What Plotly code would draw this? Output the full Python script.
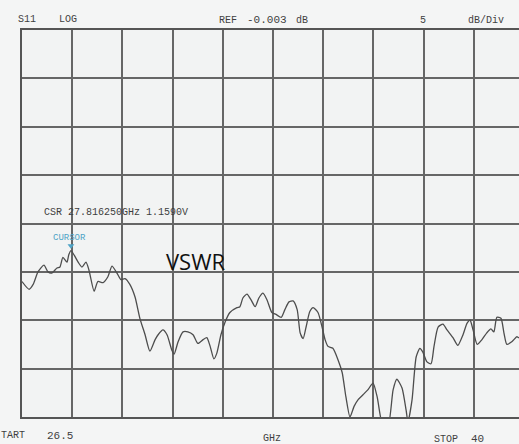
import plotly.graph_objects as go

# Frequency (GHz) and S11 magnitude (dB)
freq_ghz = [26.50, 26.69, 26.80, 26.93, 27.09, 27.20, 27.31, 27.44, 27.52, 27.60,
            27.71, 27.76, 27.82, 28.01, 28.11, 28.22, 28.30, 28.44, 28.54, 28.68,
            28.81, 28.92, 29.05, 29.16, 29.27, 29.40, 29.54, 29.67, 29.81, 29.94,
            30.08, 30.16, 30.29, 30.40, 30.53, 30.59, 30.70, 30.83, 30.96, 31.10,
            31.23, 31.37, 31.47, 31.56, 31.66, 31.74, 31.85, 31.96, 32.09, 32.28,
            32.36, 32.44, 32.55, 32.66, 32.77, 32.87, 32.98, 33.09, 33.22, 33.33,
            33.47, 33.57, 33.68, 33.79, 33.90, 33.98, 34.06, 34.14, 34.24, 34.33,
            34.46, 34.57, 34.65, 34.73, 34.86, 35.00, 35.11, 35.21, 35.32, 35.43,
            35.54, 35.67, 35.80, 35.94, 36.05, 36.21, 36.34, 36.48, 36.58, 36.72,
            36.83, 36.88, 36.99, 37.10, 37.20, 37.28, 37.39, 37.50, 37.58, 37.69,
            37.82, 37.93, 38.09, 38.22, 38.36, 38.47, 38.55, 38.63, 38.74, 38.87,
            39.00, 39.11, 39.19, 39.27, 39.38, 39.46, 39.54, 39.68, 39.81, 39.86,
            40.00]
s11_db = [-26.0, -26.8, -26.3, -25.0, -24.3, -25.0, -25.1, -24.6, -24.5, -23.5,
          -24.0, -23.2, -22.8, -24.0, -24.5, -24.0, -24.8, -27.0, -26.0, -26.1,
          -25.5, -24.4, -25.1, -25.8, -25.7, -26.3, -27.6, -29.8, -31.5, -33.2,
          -32.0, -31.5, -31.0, -31.5, -33.1, -33.5, -32.2, -31.2, -31.2, -31.5,
          -32.4, -32.0, -31.8, -32.7, -34.0, -33.4, -31.5, -30.2, -29.2, -28.7,
          -28.6, -27.7, -27.3, -27.9, -28.6, -27.7, -27.2, -27.9, -29.2, -29.4,
          -29.7, -28.9, -28.1, -28.0, -28.9, -31.3, -31.9, -30.7, -29.1, -28.7,
          -29.2, -30.7, -32.0, -32.7, -32.9, -34.1, -35.4, -37.9, -40.0, -38.9,
          -38.2, -37.7, -37.2, -36.5, -37.9, -41.0, -41.0, -37.2, -36.1, -37.0,
          -39.3, -40.5, -38.2, -33.8, -32.9, -33.3, -34.3, -34.5, -32.7, -30.7,
          -30.4, -31.0, -31.8, -32.6, -31.5, -30.3, -30.0, -31.0, -32.5, -32.0,
          -31.3, -30.9, -31.2, -29.7, -29.8, -31.3, -32.5, -32.2, -31.7, -31.8,
          -31.5]

cursor_freq = [27.816]
cursor_db = [-22.3]

start_ghz = 26.5
stop_ghz = 40.0
ref_db = 0.0
db_per_div = 5
n_xdiv = 10
n_ydiv = 8

W, H = 519, 444
L, T, B = 22, 30, 27
plot_w = W - L
plot_h = H - T - B
xdiv = (stop_ghz - start_ghz) / n_xdiv
full_w = 502.0
x_end = start_ghz + (stop_ghz - start_ghz) * plot_w / full_w

def px(xp):
    return (xp - L) / plot_w

def py(yp):
    return (H - B - yp) / plot_h

grid_col = "#666666"
txt_col = "#3f3f3f"
mono = "Liberation Mono"

fig = go.Figure()
fig.add_trace(go.Scatter(x=freq_ghz, y=s11_db, mode="lines",
                         line=dict(color="#4d4d4d", width=1.3, shape="spline", smoothing=0.6),
                         hoverinfo="skip", showlegend=False))
fig.add_trace(go.Scatter(x=cursor_freq, y=cursor_db, mode="markers",
                         marker=dict(symbol="triangle-down", size=6, color="#4fa3c6"),
                         hoverinfo="skip", showlegend=False))

fig.update_xaxes(range=[start_ghz, x_end], tick0=start_ghz, dtick=xdiv,
                 showgrid=True, gridcolor=grid_col, gridwidth=1.5,
                 showticklabels=False, ticks="", zeroline=False,
                 showline=True, linecolor="#555555", linewidth=2, mirror=True)
fig.update_yaxes(range=[ref_db - db_per_div * n_ydiv, ref_db], tick0=ref_db, dtick=db_per_div,
                 showgrid=True, gridcolor=grid_col, gridwidth=1.5,
                 showticklabels=False, ticks="", zeroline=False,
                 showline=True, linecolor="#555555", linewidth=1.6, mirror=False)

def note(text, xp, yp, size=10, color=txt_col, family=mono, anchor="left"):
    fig.add_annotation(text=text, xref="paper", yref="paper", x=px(xp), y=py(yp),
                       xanchor=anchor, yanchor="middle", showarrow=False,
                       font=dict(family=family, size=size, color=color))

# header
note("S11", 16, 19)
note("LOG", 57, 19)
note("REF", 217, 20)
note("-0.003", 245, 20, size=11)
note("dB", 294, 20)
note("5", 418, 20)
note("dB/Div", 466, 21)
# footer
note("TART", -1, 435)
note("26.5", 45, 436, size=11)
note("GHz", 261, 438)
note("STOP", 432, 439)
note("40", 469, 439, size=11)
# cursor readout
note("CSR 27.816250GHz 1.1590V", 42, 213, size=10)
note("CURSOR", 51, 238, size=9, color="#4fa3c6")
note("VSWR", 164, 261, size=22, color="#111111", family="Open Sans")

fig.update_layout(width=W, height=H,
                  margin=dict(l=L, r=0, t=T, b=B, pad=0),
                  paper_bgcolor="#f4f5f5", plot_bgcolor="#f2f3f3",
                  showlegend=False)

fig.write_html("out.html", config={"displayModeBar": False},
               post_script="document.body.style.margin='0';document.body.style.overflow='hidden';")
